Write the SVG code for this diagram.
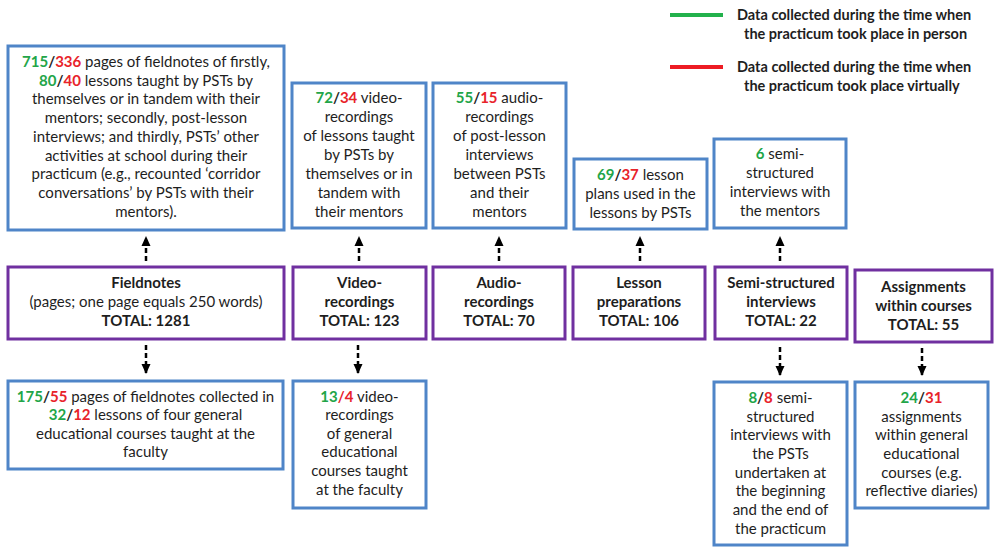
<svg xmlns="http://www.w3.org/2000/svg" width="995" height="547" viewBox="0 0 995 547">
<style>
.b{fill:#fff;stroke:#4f85c8;stroke-width:3}
.p{fill:#fff;stroke:#7030a0;stroke-width:3}
text{font-family:Lato,"Open Sans","Liberation Sans",sans-serif;font-size:15px;fill:#1e1e1e;text-anchor:middle}
.h{font-weight:bold}
.s{font-weight:bold}
.g{fill:#22a548;font-weight:bold}
.r{fill:#e8232a;font-weight:bold}
.lg{text-anchor:start;font-weight:bold;font-size:14.5px}
.c line{stroke:#000;stroke-width:2.5;stroke-dasharray:5,3}
</style>
<defs>
<marker id="ah" markerWidth="10" markerHeight="10" refX="9" refY="5" orient="auto" markerUnits="userSpaceOnUse">
<path d="M0,0.5 L10,5 L0,9.5 Z" fill="#000"/>
</marker>
</defs>
<g id="legend">
<line x1="670" y1="15" x2="723" y2="15" stroke="#22b14c" stroke-width="4"/>
<line x1="670" y1="67" x2="723" y2="67" stroke="#ed1c24" stroke-width="4"/>
<text class="lg" x="737" y="20">Data collected during the time when</text>
<text class="lg" x="744" y="39">the practicum took place in person</text>
<text class="lg" x="737" y="72">Data collected during the time when</text>
<text class="lg" x="744" y="91">the practicum took place virtually</text>
</g>
<g id="fieldnotes-detail">
<rect class="b" x="8" y="46" width="276" height="184"/>
<text x="146" y="67"><tspan class="g">715</tspan><tspan class="s">/</tspan><tspan class="r">336</tspan> pages of fieldnotes of firstly,</text>
<text x="146" y="86"><tspan class="g">80</tspan><tspan class="s">/</tspan><tspan class="r">40</tspan> lessons taught by PSTs by</text>
<text x="146" y="104">themselves or in tandem with their</text>
<text x="146" y="123">mentors; secondly, post-lesson</text>
<text x="146" y="142">interviews; and thirdly, PSTs’ other</text>
<text x="146" y="161">activities at school during their</text>
<text x="146" y="179">practicum (e.g., recounted ‘corridor</text>
<text x="146" y="198">conversations’ by PSTs with their</text>
<text x="146" y="217">mentors).</text>
</g>
<g id="video-detail">
<rect class="b" x="292" y="83" width="134" height="145"/>
<text x="359" y="103"><tspan class="g">72</tspan><tspan class="s">/</tspan><tspan class="r">34</tspan> video-</text>
<text x="359" y="122">recordings</text>
<text x="359" y="141">of lessons taught</text>
<text x="359" y="160">by PSTs by</text>
<text x="359" y="179">themselves or in</text>
<text x="359" y="198">tandem with</text>
<text x="359" y="217">their mentors</text>
</g>
<g id="audio-detail">
<rect class="b" x="433" y="83" width="133" height="145"/>
<text x="499.5" y="103"><tspan class="g">55</tspan><tspan class="s">/</tspan><tspan class="r">15</tspan> audio-</text>
<text x="499.5" y="122">recordings</text>
<text x="499.5" y="141">of post-lesson</text>
<text x="499.5" y="160">interviews</text>
<text x="499.5" y="179">between PSTs</text>
<text x="499.5" y="198">and their</text>
<text x="499.5" y="217">mentors</text>
</g>
<g id="lesson-detail">
<rect class="b" x="574" y="159" width="133" height="70"/>
<text x="640.5" y="180"><tspan class="g">69</tspan><tspan class="s">/</tspan><tspan class="r">37</tspan> lesson</text>
<text x="640.5" y="199">plans used in the</text>
<text x="640.5" y="218">lessons by PSTs</text>
</g>
<g id="mentor-detail">
<rect class="b" x="714" y="139" width="132" height="89"/>
<text x="780" y="159"><tspan class="g">6</tspan> semi-</text>
<text x="780" y="178">structured</text>
<text x="780" y="197">interviews with</text>
<text x="780" y="216">the mentors</text>
</g>
<g id="fieldnotes">
<rect class="p" x="8" y="267" width="276" height="72"/>
<text class="h" x="146" y="288">Fieldnotes</text>
<text x="146" y="307">(pages; one page equals 250 words)</text>
<text class="h" x="146" y="326">TOTAL: 1281</text>
</g>
<g id="video">
<rect class="p" x="293" y="267" width="133" height="72"/>
<text class="h" x="359.5" y="288">Video-</text>
<text class="h" x="359.5" y="307">recordings</text>
<text class="h" x="359.5" y="326">TOTAL: 123</text>
</g>
<g id="audio">
<rect class="p" x="433" y="267" width="132" height="72"/>
<text class="h" x="499" y="288">Audio-</text>
<text class="h" x="499" y="307">recordings</text>
<text class="h" x="499" y="326">TOTAL: 70</text>
</g>
<g id="lesson">
<rect class="p" x="573" y="267" width="132" height="72"/>
<text class="h" x="639" y="288">Lesson</text>
<text class="h" x="639" y="307">preparations</text>
<text class="h" x="639" y="326">TOTAL: 106</text>
</g>
<g id="semi">
<rect class="p" x="715" y="267" width="132" height="72"/>
<text class="h" x="781" y="288">Semi-structured</text>
<text class="h" x="781" y="307">interviews</text>
<text class="h" x="781" y="326">TOTAL: 22</text>
</g>
<g id="assignments">
<rect class="p" x="855" y="270" width="137" height="72"/>
<text class="h" x="923.5" y="292">Assignments</text>
<text class="h" x="923.5" y="311">within courses</text>
<text class="h" x="923.5" y="330">TOTAL: 55</text>
</g>
<g id="fieldnotes-faculty">
<rect class="b" x="8" y="381" width="275" height="88"/>
<text x="145.5" y="402"><tspan class="g">175</tspan><tspan class="s">/</tspan><tspan class="r">55</tspan> pages of fieldnotes collected in</text>
<text x="145.5" y="420"><tspan class="g">32</tspan><tspan class="s">/</tspan><tspan class="r">12</tspan> lessons of four general</text>
<text x="145.5" y="439">educational courses taught at the</text>
<text x="145.5" y="457">faculty</text>
</g>
<g id="video-faculty">
<rect class="b" x="293" y="381" width="133" height="127"/>
<text x="359.5" y="402"><tspan class="g">13</tspan><tspan class="r">/4</tspan> video-</text>
<text x="359.5" y="420">recordings</text>
<text x="359.5" y="439">of general</text>
<text x="359.5" y="457">educational</text>
<text x="359.5" y="476">courses taught</text>
<text x="359.5" y="495">at the faculty</text>
</g>
<g id="semi-psts">
<rect class="b" x="714" y="382" width="133" height="163"/>
<text x="780.5" y="403"><tspan class="g">8</tspan><tspan class="s">/</tspan><tspan class="r">8</tspan> semi-</text>
<text x="780.5" y="422">structured</text>
<text x="780.5" y="440">interviews with</text>
<text x="780.5" y="459">the PSTs</text>
<text x="780.5" y="478">undertaken at</text>
<text x="780.5" y="496">the beginning</text>
<text x="780.5" y="515">and the end of</text>
<text x="780.5" y="534">the practicum</text>
</g>
<g id="assign-detail">
<rect class="b" x="855" y="382" width="133" height="126"/>
<text x="921.5" y="403"><tspan class="g">24</tspan><tspan class="s">/</tspan><tspan class="r">31</tspan></text>
<text x="921.5" y="422">assignments</text>
<text x="921.5" y="440">within general</text>
<text x="921.5" y="459">educational</text>
<text x="921.5" y="478">courses (e.g.</text>
<text x="921.5" y="496">reflective diaries)</text>
</g>
<g class="c" id="connectors">
<line x1="146" y1="261" x2="146" y2="237" marker-end="url(#ah)"/>
<line x1="359" y1="261" x2="359" y2="237" marker-end="url(#ah)"/>
<line x1="499" y1="261" x2="499" y2="237" marker-end="url(#ah)"/>
<line x1="640" y1="261" x2="640" y2="237" marker-end="url(#ah)"/>
<line x1="780" y1="261" x2="780" y2="237" marker-end="url(#ah)"/>
<line x1="146" y1="345" x2="146" y2="373" marker-end="url(#ah)"/>
<line x1="358" y1="345" x2="358" y2="373" marker-end="url(#ah)"/>
<line x1="780" y1="347" x2="780" y2="375" marker-end="url(#ah)"/>
<line x1="922" y1="348" x2="922" y2="375" marker-end="url(#ah)"/>
</g>
</svg>
